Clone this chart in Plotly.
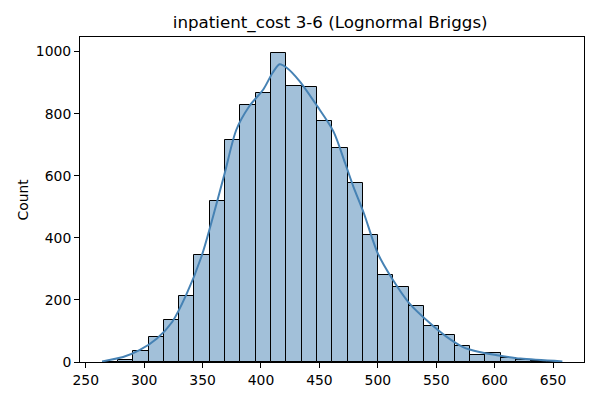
import numpy as np
import plotly.graph_objects as go

# ── Data ──────────────────────────────────────────────────────────────────────
TITLE = "inpatient_cost 3-6 (Lognormal Briggs)"
data_min, data_max = 264.5, 657.5   # observed range of inpatient_cost
n_bins = 30

counts = [1, 6, 36, 82, 134, 213, 345, 518, 716, 827,
          868, 997, 890, 886, 775, 690, 577, 408, 279, 242,
          179, 117, 87, 50, 24, 30, 13, 6, 2, 1]

# kde curve, scaled to counts
kde_x = [264, 282, 296, 311, 324, 336, 349, 359, 369, 379, 390, 402, 410, 416, 422,
         433, 448, 462, 472, 479, 488, 500, 513, 527, 545, 559, 573, 587, 602, 622, 658]
kde_y = [2, 16, 38, 76, 129, 216, 339, 469, 609, 749, 824, 878, 932, 959, 948,
         905, 825, 743, 641, 566, 480, 350, 264, 189, 124, 81, 48, 32, 22, 11, 2]

x_ticks = [250, 300, 350, 400, 450, 500, 550, 600, 650]
y_ticks = [0, 200, 400, 600, 800, 1000]

# ── Style ─────────────────────────────────────────────────────────────────────
LINE = "#4682b4"
FILL = "rgba(70,130,180,0.5)"
FONT = "DejaVu Sans"

edges = np.linspace(data_min, data_max, n_bins + 1)
centers = (edges[:-1] + edges[1:]) / 2
bin_w = edges[1] - edges[0]

fig = go.Figure()
fig.add_trace(go.Bar(
    x=centers, y=counts, width=bin_w,
    marker=dict(color=FILL, line=dict(color="black", width=1)),
    hoverinfo="x+y", showlegend=False,
))
fig.add_trace(go.Scatter(
    x=kde_x, y=kde_y, mode="lines",
    line=dict(color=LINE, width=2, shape="spline", smoothing=0.8),
    hoverinfo="skip", showlegend=False,
))

# page body adds an 8px margin, so the margins below are shifted to compensate
fig.update_layout(
    width=600, height=400,
    margin=dict(l=72, r=24, t=29, b=46),
    paper_bgcolor="white", plot_bgcolor="white",
    font=dict(family=FONT, size=13.9, color="black"),
    bargap=0,
    title=dict(text=TITLE, x=0.537, xanchor="center", y=1 - 14 / 400, yanchor="middle",
               font=dict(family=FONT, size=16.7, color="black")),
    annotations=[dict(text="Count", textangle=-90, xref="paper", yref="paper",
                      x=0, y=0.5, xanchor="center", yanchor="middle", xshift=-58,
                      showarrow=False, font=dict(family=FONT, size=13.9, color="black"))],
)
axis_style = dict(showline=True, linecolor="black", linewidth=1, mirror=True,
                  ticks="outside", ticklen=5, tickcolor="black", tickwidth=1,
                  showgrid=False, zeroline=False, tickfont=dict(family=FONT, size=13.9))
fig.update_xaxes(range=[245.1, 676.5], tickvals=x_ticks, **axis_style)
fig.update_yaxes(range=[0, 1047], tickvals=y_ticks, **axis_style)

fig.write_html("out.html")
